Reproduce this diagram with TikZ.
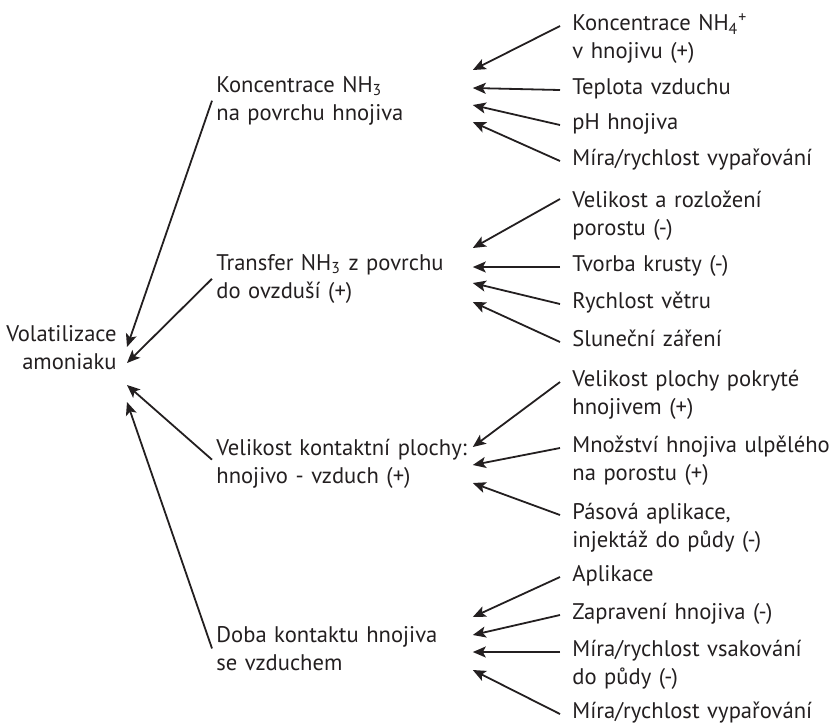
\documentclass[tikz,border=0pt]{standalone}
\usepackage{fontspec}
\setsansfont{PT Sans}
\usetikzlibrary{arrows.meta}
\definecolor{ink}{HTML}{231F20}
\tikzstyle{arrow} = [line width=0.9pt, draw=ink, -{Stealth[length=6.5pt, width=5.5pt, inset=1.5pt]}]

\begin{document}
\begin{tikzpicture}[x=0.5pt, y=-0.5pt,
		root/.style={anchor=mid east, align=right, inner xsep=5pt, text=ink},
		factor/.style={anchor=mid west, align=left, text width=126pt, inner xsep=2pt, text=ink},
		cause/.style={anchor=mid west, align=left, text width=136pt, inner xsep=6pt, text=ink},
		font={\sffamily\fontsize{11.3}{14}\selectfont}
		]
		\useasboundingbox (0,0) rectangle (830,725);
		% Volatilizace
		\node[root] (vol) at (127,365) {Volatilizace\\amoniaku};
		% Koncentrace
		\node[factor] (konc) at (212,88) {Koncentrace NH\textsubscript{3}\\na povrchu hnojiva};
		\node[cause] (nh4) at (560,26) {Koncentrace NH\textsubscript{4}\textsuperscript{+}\\v hnojivu (+)};
		\node[cause] (tepl) at (560,90) {Teplota vzduchu};
		\node[cause] (ph) at (560,125) {pH hnojiva};
		\node[cause] (vypar) at (560,161) {Míra/rychlost vypařování};
		% Transfer
		\node[factor] (trans) at (212,266) {Transfer NH\textsubscript{3} z povrchu\\do ovzduší (+)};
		\node[cause] (porost) at (560,203) {Velikost a rozložení\\porostu (-)};
		\node[cause] (krusta) at (560,267) {Tvorba krusty (-)};
		\node[cause] (vitr) at (560,304) {Rychlost větru};
		\node[cause] (slunce) at (560,342) {Sluneční záření};
		% Velikost plochy
		\node[factor] (plocha) at (212,451) {Velikost kontaktní plochy:\\hnojivo - vzduch (+)};
		\node[cause] (pokryti) at (560,382) {Velikost plochy pokryté\\hnojivem (+)};
		\node[cause] (ulpeni) at (560,448) {Množství hnojiva ulpělého\\na porostu (+)};
		\node[cause] (pasy) at (560,515) {Pásová aplikace,\\injektáž do půdy (-)};
		% Doba kontaktu
		\node[factor] (doba) at (212,638) {Doba kontaktu hnojiva\\se vzduchem};
		\node[cause] (aplik) at (560,577) {Aplikace};
		\node[cause] (zaprav) at (560,615) {Zapravení hnojiva (-)};
		\node[cause] (vsak) at (560,652) {Míra/rychlost vsakování\\do půdy (-)};
		\node[cause] (vypar2) at (560,714) {Míra/rychlost vypařování};

		% arrows
		\draw[arrow] (konc.west) -- ([yshift=9pt]vol.mid east);
		\draw[arrow] (trans.west) -- ([yshift=1pt]vol.mid east);
		\draw[arrow] ([yshift=2pt]plocha.west) -- ([yshift=-10pt]vol.mid east);
		\draw[arrow] (doba.west) -- ([yshift=-18.5pt]vol.mid east);

		\draw[arrow] (nh4.mid west) -- ([yshift=9pt]konc.mid east);
		\draw[arrow] (tepl.mid west) -- (konc.mid east);
		\draw[arrow] (ph.mid west) -- ([yshift=-8.5pt]konc.mid east);
		\draw[arrow] (vypar.mid west) -- ([yshift=-17pt]konc.mid east);

		\draw[arrow] ([yshift=2pt]porost.mid west) -- ([yshift=9pt]trans.mid east);
		\draw[arrow] (krusta.mid west) -- ([yshift=-0.5pt]trans.mid east);
		\draw[arrow] (vitr.mid west) -- ([yshift=-8.5pt]trans.mid east);
		\draw[arrow] (slunce.mid west) -- ([yshift=-18pt]trans.mid east);

		\draw[arrow] (pokryti.mid west) -- ([yshift=2pt]plocha.mid east);
		\draw[arrow] (ulpeni.mid west) -- ([yshift=-7pt]plocha.mid east);
		\draw[arrow] (pasy.mid west) -- ([yshift=-16pt]plocha.mid east);

		\draw[arrow] (aplik.mid west) -- ([yshift=10.5pt]doba.mid east);
		\draw[arrow] (zaprav.mid west) -- ([yshift=1.5pt]doba.mid east);
		\draw[arrow] (vsak.mid west) -- ([yshift=-7pt]doba.mid east);
		\draw[arrow] (vypar2.mid west) -- ([yshift=-16pt]doba.mid east);
\end{tikzpicture}
\end{document}
